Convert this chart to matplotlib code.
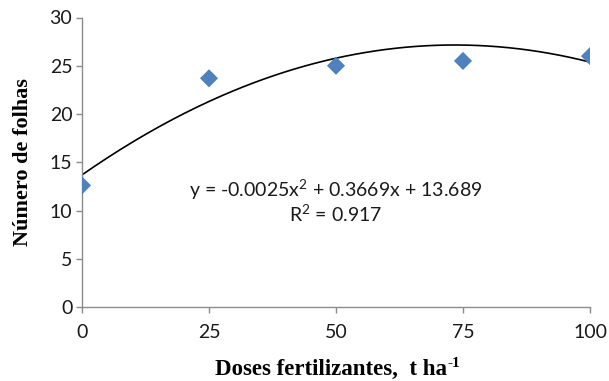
import numpy as np
import matplotlib
matplotlib.use("Agg")
import matplotlib.pyplot as plt

# data
doses = [0, 25, 50, 75, 100]
folhas = [12.6, 23.7, 25.0, 25.5, 26.0]
# trendline coefficients printed on the chart (a*x^2 + b*x + c)
coefs = [-0.0025, 0.3669, 13.689]
r2 = 0.917
xticks = [0, 25, 50, 75, 100]
yticks = [0, 5, 10, 15, 20, 25, 30]

plt.rcParams["mathtext.fontset"] = "custom"
plt.rcParams["mathtext.rm"] = "Lato"
plt.rcParams["mathtext.it"] = "Lato"
plt.rcParams["mathtext.bf"] = "Lato:bold"

fig = plt.figure(figsize=(6.09, 3.81), dpi=100)
ax = fig.add_axes([82 / 609, 1 - 307 / 381, (590 - 82) / 609, (307 - 17.5) / 381])

# trendline
xs = np.linspace(min(doses), max(doses), 200)
ax.plot(xs, np.polyval(coefs, xs), color="black", lw=1.2, zorder=2)

ax.scatter(doses, folhas, marker="D", s=85, color="#4F81BD", edgecolors="none", zorder=3)

ax.set_xlim(0, 100)
ax.set_ylim(0, 30)
ax.set_xticks(xticks)
ax.set_yticks(yticks)

for side in ["top", "right"]:
    ax.spines[side].set_visible(False)
for side in ["left", "bottom"]:
    ax.spines[side].set_color("#8c8c8c")
    ax.spines[side].set_linewidth(1.0)

ax.tick_params(axis="both", direction="out", length=4, width=1.0, color="#8c8c8c",
               labelsize=14, labelcolor="#1a1a1a")
ax.tick_params(axis="x", pad=8)
ax.tick_params(axis="y", pad=3)
for lab in ax.get_xticklabels() + ax.get_yticklabels():
    lab.set_family("Lato")

ax.set_ylabel("Número de folhas", family="Liberation Serif", fontweight="bold", fontsize=16)
ax.yaxis.set_label_coords(-0.097, 0.5)

# x label with a hand-placed superscript
xlab = fig.text(331 / 609, 1 - 369 / 381, "Doses fertilizantes,  t ha", family="Liberation Serif",
                fontweight="bold", fontsize=16.5, ha="center", va="center")
ax.annotate("-1", xy=(1.0, 1.0), xycoords=xlab, xytext=(0.5, 1), textcoords="offset points",
            ha="left", va="top", family="Liberation Serif", fontweight="bold", fontsize=11,
            annotation_clip=False)

eq = f"y = {coefs[0]}x$^2$ + {coefs[1]}x + {coefs[2]}"
ax.text(0.5, (307 - 190) / 289.5, eq, transform=ax.transAxes,
        ha="center", va="center", family="Lato", fontsize=14, color="#1a1a1a")
ax.text(0.5, (307 - 214) / 289.5, f"R$^2$ = {r2}", transform=ax.transAxes,
        ha="center", va="center", family="Lato", fontsize=14, color="#1a1a1a")

fig.savefig("out.png", dpi=100)
